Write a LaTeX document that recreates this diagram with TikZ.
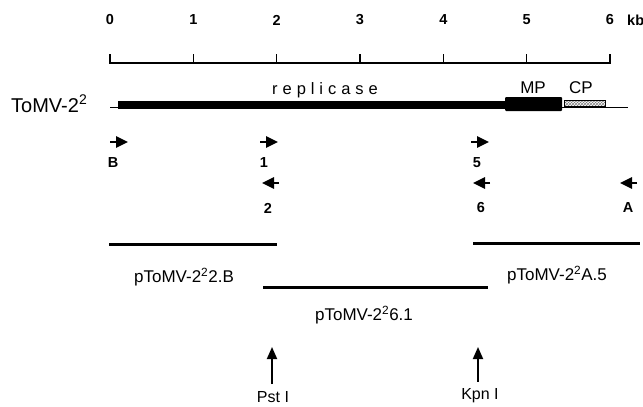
\documentclass[tikz,border=0pt]{standalone}
\usepackage{fontspec}
\setmainfont{Liberation Sans}
\usetikzlibrary{arrows.meta,patterns}
\begin{document}
\begin{tikzpicture}[x=1pt,y=-1pt,
  scalenum/.style={font=\bfseries\fontsize{14.5}{16}\selectfont,inner sep=1pt},
  primlab/.style={font=\bfseries\fontsize{14.5}{16}\selectfont,inner sep=1pt},
  clonelab/.style={font=\fontsize{17}{19}\selectfont,inner sep=1pt},
  genelab/.style={font=\fontsize{17}{19}\selectfont,inner sep=1pt},
  sitelab/.style={font=\fontsize{16}{18}\selectfont,inner sep=2pt},
  primer/.style={line width=2.6pt,-{Triangle[length=12pt,width=11pt]}},
  site/.style={line width=1.8pt,-{Triangle[length=12pt,width=10pt]}},
  clone/.style={line width=3pt},
  axis/.style={line width=1.3pt},
]
\useasboundingbox (0,0) rectangle (643,407);
% scale
\draw[axis] (110,63) -- (610,63);
\foreach \k in {0,...,6}{
  \draw[axis] (110+83.333*\k,63.6) -- ++(0,-9.6);
  \node[scalenum] (n\k) at (110+83.333*\k,20) {\k};
}
\node[scalenum,anchor=west] (kb) at (626,20) {kb};
% genome
\node[font=\fontsize{20}{22}\selectfont,anchor=base west,inner sep=0pt] (tomv) at (11,112) {ToMV-2\textsuperscript{2}};
\draw[axis] (110,107.5) -- (628,107.5);
\fill (118,101) rectangle (505,109);
\fill[rounded corners=1pt] (505,97) rectangle (562,111);
\draw[line width=0.8pt,pattern=crosshatch,pattern color=gray] (564,100.5) rectangle (605,106.5);
\node[genelab,font=\fontsize{16.5}{18}\selectfont\addfontfeature{LetterSpace=30}] (repl) at (325,90) {replicase};
\node[genelab] (mp) at (533,88) {MP};
\node[genelab] (cp) at (581,88) {CP};
% primers
\coordinate (pB) at (110,142);
\coordinate (p1) at (260,142);
\coordinate (p5) at (471,142);
\coordinate (p2) at (279,183);
\coordinate (p6) at (490,183);
\coordinate (pA) at (637,183);
\draw[primer] (pB) -- ++(18,0);
\draw[primer] (p1) -- ++(18,0);
\draw[primer] (p5) -- ++(18,0);
\draw[primer] (p2) -- ++(-17,0);
\draw[primer] (p6) -- ++(-17,0);
\draw[primer] (pA) -- ++(-17,0);
\node[primlab] (lB) at (113,163) {B};
\node[primlab] (l1) at (264,163) {1};
\node[primlab] (l5) at (477,163) {5};
\node[primlab] (l2) at (268,208) {2};
\node[primlab] (l6) at (481,208) {6};
\node[primlab] (lA) at (628,208) {A};
% clones
\coordinate (c2Ba) at (109,244); \coordinate (c2Bb) at (277,244);
\coordinate (cA5a) at (473,243); \coordinate (cA5b) at (640,243);
\coordinate (c61a) at (263,287); \coordinate (c61b) at (488,287);
\draw[clone] (c2Ba) -- (c2Bb);
\draw[clone] (cA5a) -- (cA5b);
\draw[clone] (c61a) -- (c61b);
\node[clonelab] (t2B) at (184,277) {pToMV-2\textsuperscript{2}2.B};
\node[clonelab] (tA5) at (557,275) {pToMV-2\textsuperscript{2}A.5};
\node[clonelab] (t61) at (364,315) {pToMV-2\textsuperscript{2}6.1};
% restriction sites
\node[sitelab] (pst) at (273,397) {Pst I};
\node[sitelab] (kpn) at (480,396) {Kpn I};
\coordinate (pstTip) at (272,347);
\coordinate (kpnTip) at (478,347);
\draw[site,shorten <=5pt] (pst.north -| pstTip) -- (pstTip);
\draw[site,shorten <=5pt] (kpn.north -| kpnTip) -- (kpnTip);
\end{tikzpicture}
\end{document}
